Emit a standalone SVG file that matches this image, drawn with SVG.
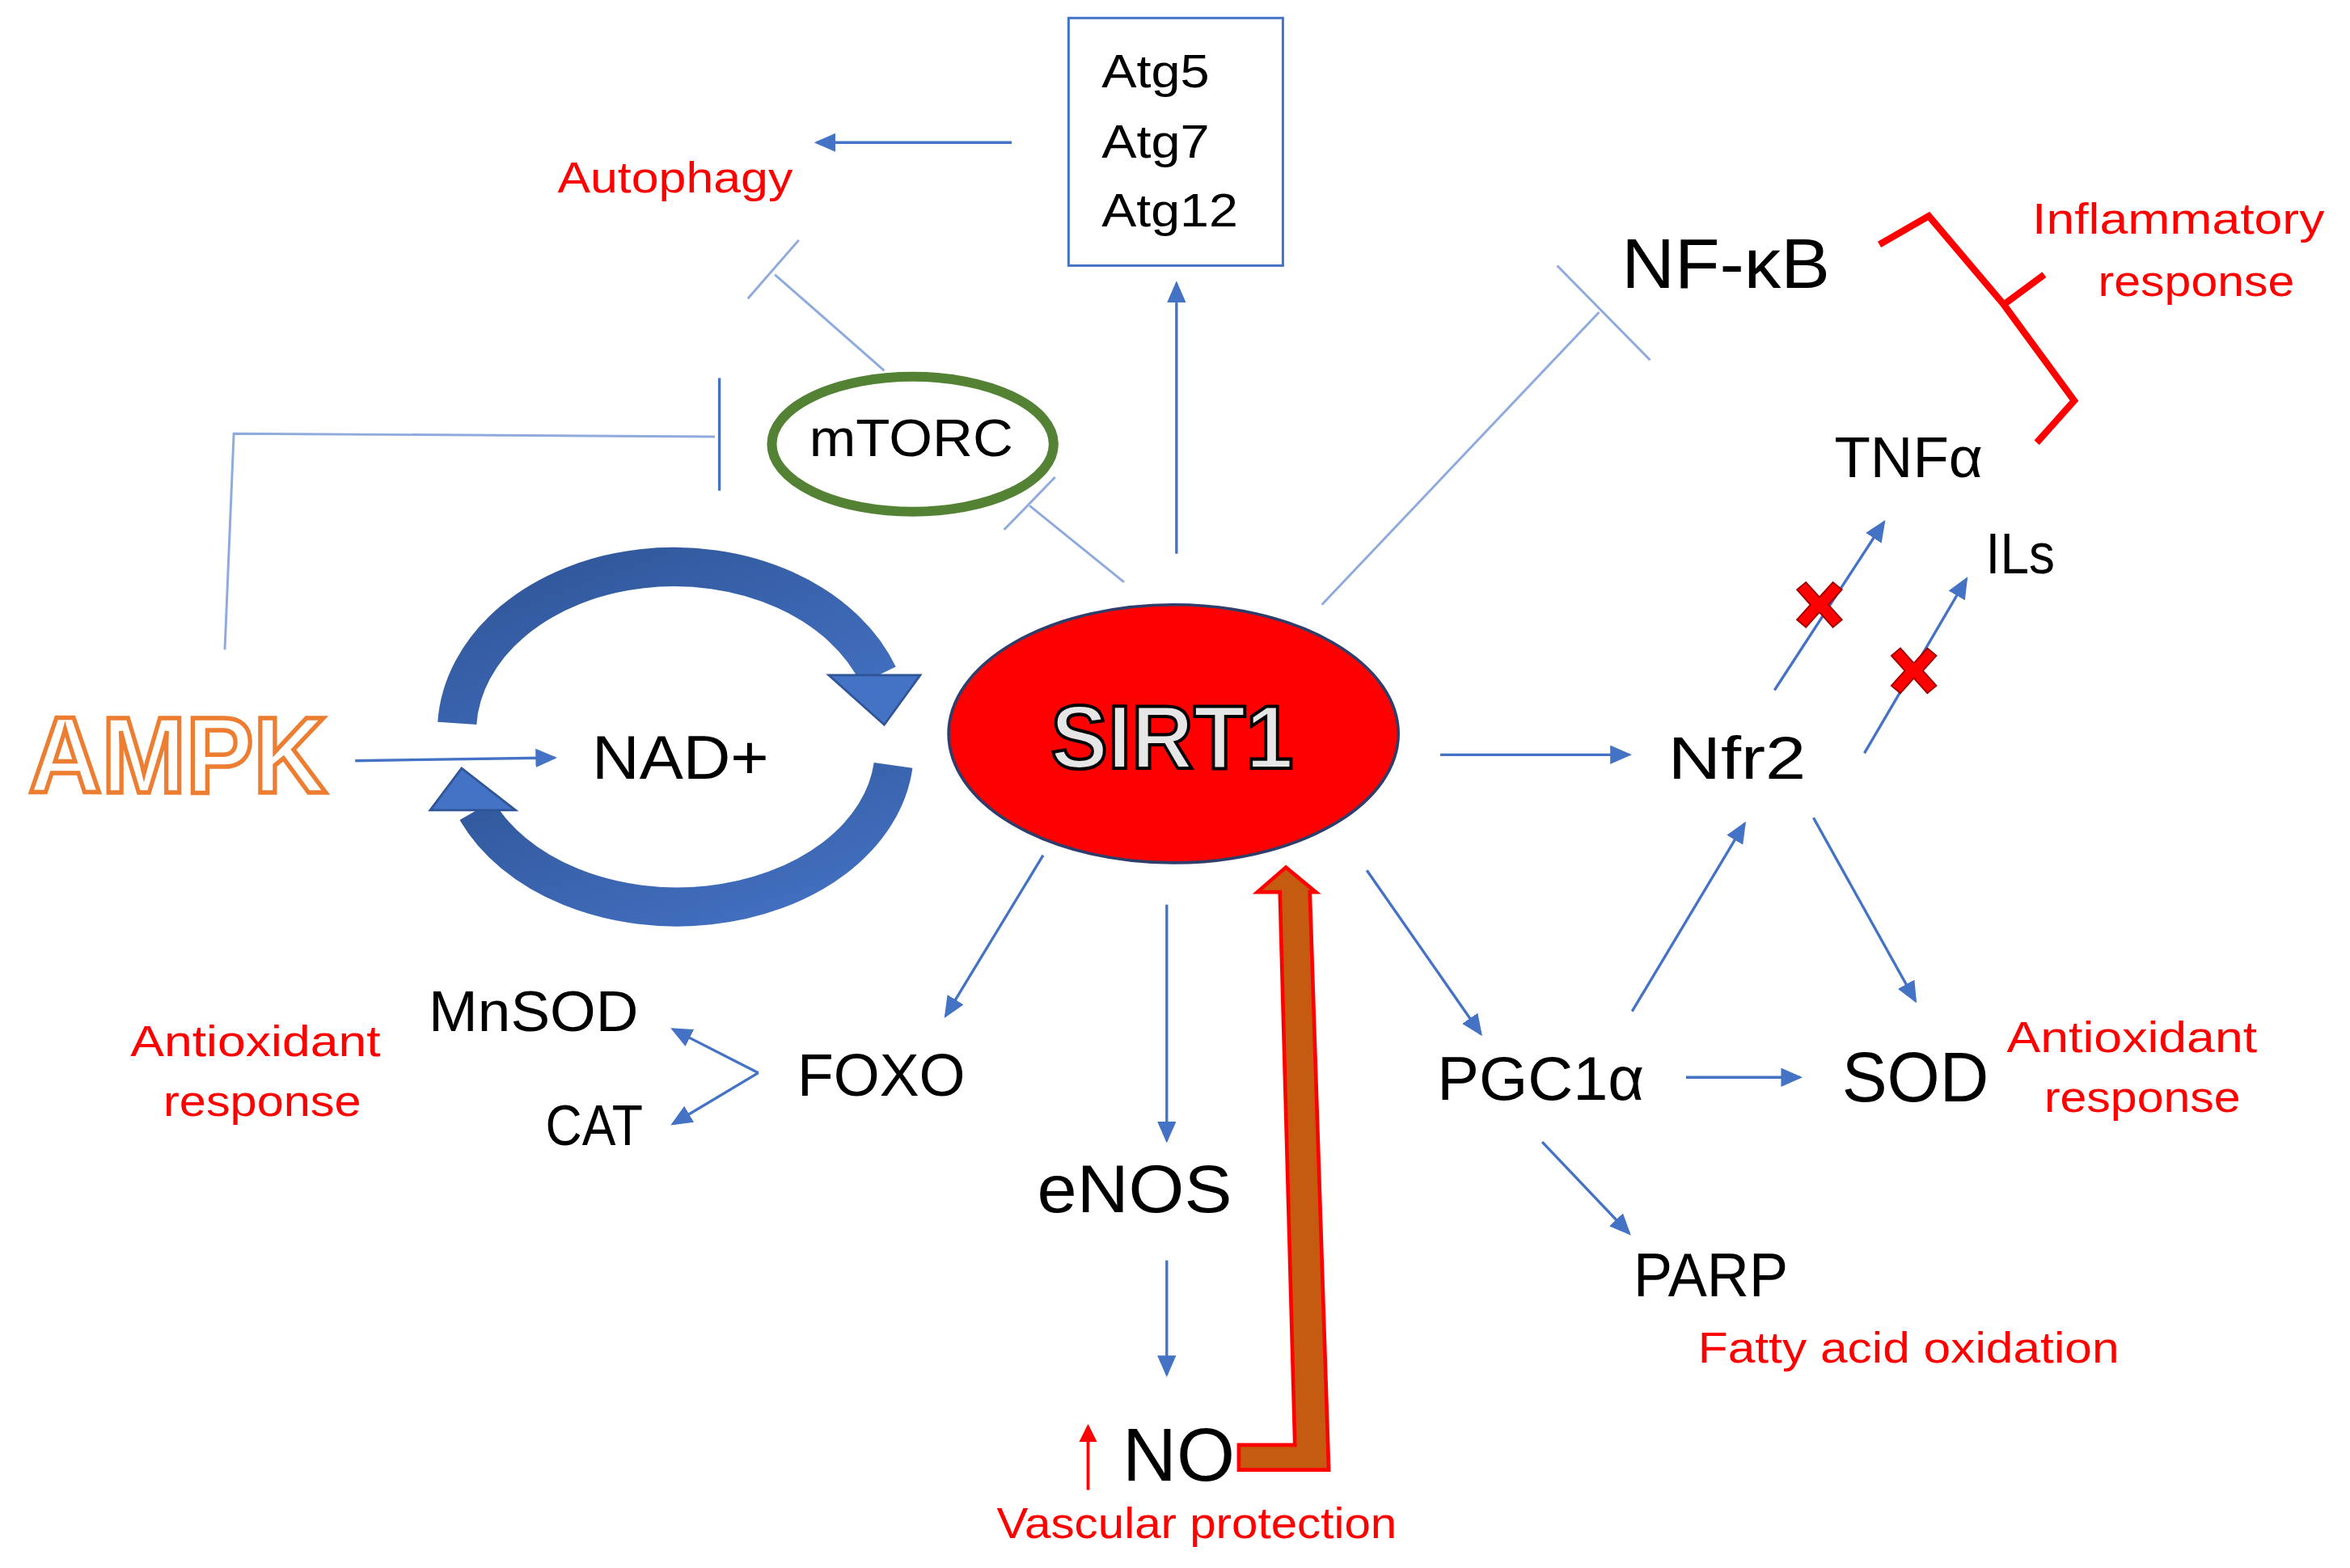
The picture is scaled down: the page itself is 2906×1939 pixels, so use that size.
<svg xmlns="http://www.w3.org/2000/svg" width="2906" height="1939" viewBox="0 0 2906 1939">
<defs>
<style>
text{font-family:"Liberation Sans","DejaVu Sans",sans-serif;}
.k{fill:#000;}
.r{fill:#FF0000;font-size:29px;}
.c{stroke:#4472C4;stroke-width:1.8;fill:none;}
.ca{stroke:#4472C4;stroke-width:1.8;fill:none;marker-end:url(#ah);}
.inh{stroke:#8FAADC;stroke-width:1.6;fill:none;}
</style>
<marker id="ah" markerWidth="8" markerHeight="7" refX="7" refY="3.5" orient="auto" markerUnits="strokeWidth">
<path d="M0,0 L8,3.5 L0,7 Z" fill="#4472C4"/>
</marker>
<marker id="rah" markerWidth="6" markerHeight="6" refX="5" refY="3" orient="auto" markerUnits="strokeWidth">
<path d="M0,0 L6,3 L0,6 Z" fill="#FF0000"/>
</marker>
<linearGradient id="bg" x1="0" y1="0" x2="1" y2="1">
<stop offset="0" stop-color="#2F5597"/><stop offset="1" stop-color="#4472C4"/>
</linearGradient>
</defs>
<rect width="2906" height="1939" fill="#fff"/>
<g transform="scale(1.8533,1.8555)">
<g id="connectors">
<line class="ca" x1="675" y1="95" x2="545" y2="95"/>
<line class="inh" x1="590" y1="247" x2="517" y2="183"/>
<line class="inh" x1="499" y1="199" x2="533" y2="160"/>
<polyline class="inh" points="150,433 156,289 477,291"/>
<line class="c" x1="480" y1="252" x2="480" y2="327"/>
<line class="inh" x1="750" y1="388" x2="687" y2="337"/>
<line class="inh" x1="670" y1="353" x2="704" y2="318"/>
<line class="ca" x1="785" y1="369" x2="785" y2="189"/>
<line class="inh" x1="882" y1="403" x2="1067" y2="208"/>
<line class="inh" x1="1039" y1="177" x2="1101" y2="240"/>
<line class="ca" x1="1184" y1="460" x2="1257" y2="348"/>
<line class="ca" x1="1244" y1="502" x2="1312" y2="386"/>
<line class="ca" x1="961" y1="503" x2="1087" y2="503"/>
<line class="ca" x1="237" y1="507" x2="370" y2="505"/>
<line class="ca" x1="696" y1="570" x2="631" y2="677"/>
<line class="ca" x1="506" y1="715" x2="449" y2="686"/>
<line class="ca" x1="506" y1="715" x2="449" y2="749"/>
<line class="ca" x1="778.5" y1="603" x2="778.5" y2="760"/>
<line class="ca" x1="778.5" y1="840" x2="778.5" y2="916"/>
<line stroke="#FF0000" stroke-width="2" x1="726" y1="993" x2="726" y2="951" marker-end="url(#rah)"/>
<line class="ca" x1="912" y1="580" x2="988" y2="689"/>
<line class="ca" x1="1089" y1="674" x2="1164" y2="549"/>
<line class="ca" x1="1210" y1="545" x2="1278" y2="667"/>
<line class="ca" x1="1125" y1="718" x2="1201" y2="718"/>
<line class="ca" x1="1029" y1="761" x2="1087" y2="822"/>
<polyline fill="none" stroke="#FF0000" stroke-width="4.5" stroke-linejoin="miter" points="1254,163 1287,144 1337,203 1384,267 1359,295"/>
<line stroke="#FF0000" stroke-width="4.5" x1="1337" y1="203" x2="1364" y2="183"/>
<path d="M826.6,963 L864,963 L854,594.5 L839,594.5 L858,578 L878,594.5 L874,594.5 L886.6,979.6 L826.6,979.6 Z" fill="#C55A11" stroke="#FF0000" stroke-width="2.5"/>
</g>
<g id="cycle">
<path d="M305,482 A145,110 0 0 1 586,450" fill="none" stroke="url(#bg)" stroke-width="26"/>
<path d="M553,450 L614,450 L590,483 Z" fill="#4472C4" stroke="#2F5597" stroke-width="1.5"/>
<path d="M596,510 A145,105 0 0 1 318,540" fill="none" stroke="url(#bg)" stroke-width="26"/>
<path d="M287,540 L344,540 L308,512 Z" fill="#4472C4" stroke="#2F5597" stroke-width="1.5"/>
</g>
<g id="atg">
<rect x="713" y="12" width="143" height="165" fill="#fff" stroke="#4472C4" stroke-width="1.6"/>
<text class="k" x="735" y="58" font-size="31" textLength="72" lengthAdjust="spacingAndGlyphs">Atg5</text>
<text class="k" x="735" y="105" font-size="31" textLength="72" lengthAdjust="spacingAndGlyphs">Atg7</text>
<text class="k" x="735" y="151" font-size="31" textLength="91" lengthAdjust="spacingAndGlyphs">Atg12</text>
</g>
<g id="autophagy"><text class="r" x="372" y="128" textLength="157" lengthAdjust="spacingAndGlyphs">Autophagy</text></g>
<g id="mtorc">
<ellipse cx="609" cy="296" rx="94" ry="45" fill="#fff" stroke="#548235" stroke-width="6.5"/>
<text class="k" x="540" y="304" font-size="35" textLength="136" lengthAdjust="spacingAndGlyphs">mTORC</text>
</g>
<g id="ampk"><text x="19" y="528" font-size="72" font-weight="bold" fill="#fff" stroke="#ED7D31" stroke-width="3" textLength="199" lengthAdjust="spacingAndGlyphs">AMPK</text></g>
<g id="nad"><text class="k" x="395" y="519" font-size="41" textLength="118" lengthAdjust="spacingAndGlyphs">NAD+</text></g>
<g id="sirt1">
<ellipse cx="783" cy="489" rx="150" ry="86" fill="#FF0000" stroke="#2F3D6B" stroke-width="2"/>
<text x="701" y="512" font-size="60" font-weight="bold" fill="#E6E6E6" stroke="#000" stroke-width="2.2" textLength="162" lengthAdjust="spacingAndGlyphs">SIRT1</text>
</g>
<g id="nfkb"><text class="k" x="1082" y="192" font-size="47" textLength="139" lengthAdjust="spacingAndGlyphs">NF-κB</text></g>
<g id="inflam">
<text class="r" x="1356" y="156" textLength="195" lengthAdjust="spacingAndGlyphs">Inflammatory</text>
<text class="r" x="1400" y="197" textLength="131" lengthAdjust="spacingAndGlyphs">response</text>
</g>
<g id="tnfa"><text class="k" x="1224" y="318" font-size="38" textLength="99" lengthAdjust="spacingAndGlyphs">TNFα</text></g>
<g id="ils"><text class="k" x="1325" y="382" font-size="38" textLength="46" lengthAdjust="spacingAndGlyphs">ILs</text></g>
<g id="xmarks" fill="#FF0000" stroke="#A00000" stroke-width="1">
<path d="M1199,393 l6,-5 l9,10 l9,-10 l6,5 l-9,10 l9,10 l-6,5 l-9,-10 l-9,10 l-6,-5 l9,-10 Z"/>
<path d="M1262,437 l6,-5 l9,10 l9,-10 l6,5 l-9,10 l9,10 l-6,5 l-9,-10 l-9,10 l-6,-5 l9,-10 Z"/>
</g>
<g id="nfr2"><text class="k" x="1113" y="519" font-size="40" textLength="92" lengthAdjust="spacingAndGlyphs">Nfr2</text></g>
<g id="mnsod"><text class="k" x="286" y="687" font-size="38" textLength="140" lengthAdjust="spacingAndGlyphs">MnSOD</text></g>
<g id="cat"><text class="k" x="364" y="763" font-size="38" textLength="65" lengthAdjust="spacingAndGlyphs">CAT</text></g>
<g id="foxo"><text class="k" x="532" y="730" font-size="40" textLength="112" lengthAdjust="spacingAndGlyphs">FOXO</text></g>
<g id="antiox-left">
<text class="r" x="87" y="704" textLength="167" lengthAdjust="spacingAndGlyphs">Antioxidant</text>
<text class="r" x="109" y="744" textLength="132" lengthAdjust="spacingAndGlyphs">response</text>
</g>
<g id="enos"><text class="k" x="692" y="808" font-size="45" textLength="130" lengthAdjust="spacingAndGlyphs">eNOS</text></g>
<g id="no"><text class="k" x="749" y="987" font-size="50" textLength="75" lengthAdjust="spacingAndGlyphs">NO</text></g>
<g id="vascular"><text class="r" x="665" y="1025" textLength="267" lengthAdjust="spacingAndGlyphs">Vascular protection</text></g>
<g id="pgc1a"><text class="k" x="959" y="733" font-size="41" textLength="138" lengthAdjust="spacingAndGlyphs">PGC1α</text></g>
<g id="sod"><text class="k" x="1229" y="734" font-size="47" textLength="98" lengthAdjust="spacingAndGlyphs">SOD</text></g>
<g id="antiox-right">
<text class="r" x="1339" y="701" textLength="167" lengthAdjust="spacingAndGlyphs">Antioxidant</text>
<text class="r" x="1364" y="741" textLength="131" lengthAdjust="spacingAndGlyphs">response</text>
</g>
<g id="parp"><text class="k" x="1090" y="864" font-size="41" textLength="103" lengthAdjust="spacingAndGlyphs">PARP</text></g>
<g id="fatty"><text class="r" x="1133" y="908" textLength="281" lengthAdjust="spacingAndGlyphs">Fatty acid oxidation</text></g>
</g>
</svg>
